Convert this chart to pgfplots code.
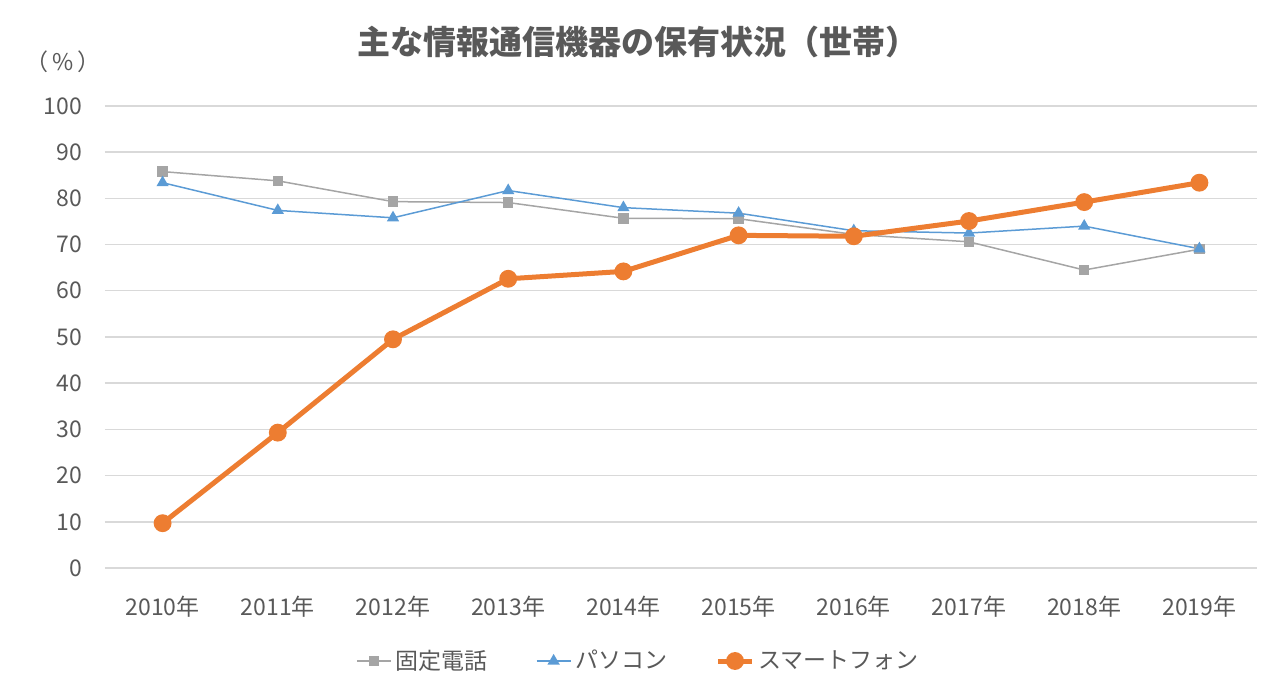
\documentclass[border=0pt]{standalone}
\usepackage{fontspec}
\setmainfont{Noto Sans CJK JP}
\usepackage{pgfplots}
\pgfplotsset{compat=1.18}
\definecolor{cgray}{RGB}{165,165,165}
\definecolor{cblue}{RGB}{91,155,213}
\definecolor{corange}{RGB}{237,125,49}
\definecolor{ctext}{RGB}{89,89,89}
\definecolor{cgrid}{RGB}{217,217,217}
\begin{document}
\begin{tikzpicture}
\path[use as bounding box] (-52.5pt,-64pt) rectangle (587.5pt,284pt);
\begin{axis}[
  scale only axis,
  width=576pt, height=231pt,
  at={(0pt,0pt)}, anchor=south west,
  xmin=-0.5, xmax=9.5, ymin=0, ymax=100,
  xtick={0,...,9},
  xticklabels={2010年,2011年,2012年,2013年,2014年,2015年,2016年,2017年,2018年,2019年},
  ytick={0,10,...,100},
  axis line style={draw=none},
  major tick length=0pt,
  ymajorgrids, grid style={cgrid, line width=0.7pt},
  /pgf/number format/assume math mode=true,
  tick label style={font=\fontsize{11.5pt}{13pt}\selectfont, text=ctext},
  x tick label style={anchor=center, yshift=-19.5pt},
  y tick label style={anchor=east, xshift=-8pt},
  legend columns=3,
  legend style={at={(0.464,-0.2013)}, anchor=center, draw=none, fill=none,
    font=\fontsize{11.5pt}{13pt}\selectfont, text=ctext,
    /tikz/every even column/.append style={column sep=22pt}},
  legend cell align=left,
  clip=false,
]
\addplot[cgray, line width=0.75pt, mark=square*, mark size=2.25pt, mark options={fill=cgray, draw=cgray}]
  coordinates {(0,85.8)(1,83.8)(2,79.3)(3,79.1)(4,75.7)(5,75.6)(6,72.2)(7,70.6)(8,64.5)(9,69.0)};
\addlegendentry{固定電話}
\addplot[cblue, line width=0.75pt, mark=triangle*, mark size=2.8pt, mark options={fill=cblue, draw=cblue}]
  coordinates {(0,83.4)(1,77.4)(2,75.8)(3,81.7)(4,78.0)(5,76.8)(6,73.0)(7,72.5)(8,74.0)(9,69.1)};
\addlegendentry{パソコン}
\addplot[corange, line width=2.5pt, mark=*, mark size=3.2pt, mark options={fill=corange, draw=corange}]
  coordinates {(0,9.7)(1,29.3)(2,49.5)(3,62.6)(4,64.2)(5,72.0)(6,71.8)(7,75.1)(8,79.2)(9,83.4)};
\addlegendentry{スマートフォン}
\end{axis}
\node[text=ctext, font=\fontsize{16.5pt}{18pt}\selectfont\bfseries] at (266.5pt,263pt) {主な情報通信機器の保有状況（世帯）};
\node[text=ctext, font=\fontsize{11.5pt}{13pt}\selectfont] at (-21pt,253pt) {（\,\%\,）};
\end{tikzpicture}
\end{document}
